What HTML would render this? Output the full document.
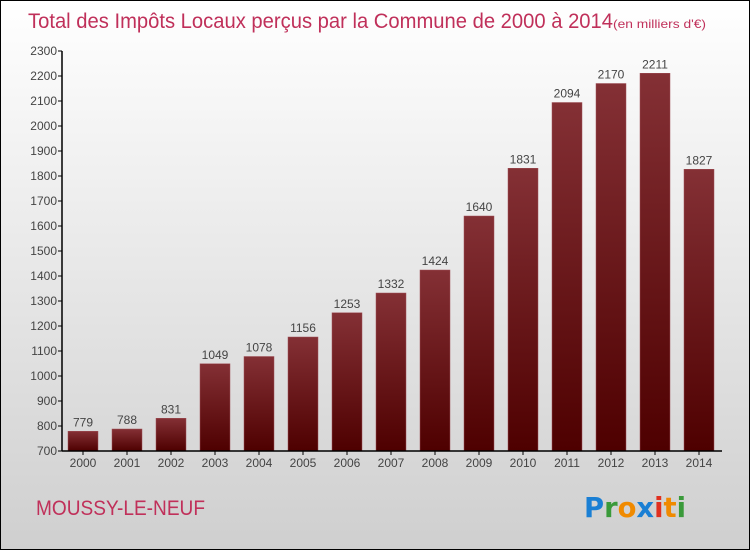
<!DOCTYPE html>
<html><head><meta charset="utf-8"><style>
body{margin:0;}
#wrap{position:relative;width:748px;height:548px;border:1px solid #000;background:linear-gradient(#fff,#cfcfcf);font-family:"Liberation Sans",sans-serif;overflow:hidden}
</style></head><body>
<div id="wrap">
<svg id="c" width="748" height="548" style="position:absolute;left:0;top:0">
<defs><linearGradient id="bg" x1="0" y1="0" x2="0" y2="1"><stop offset="0" stop-color="#843035"/><stop offset="1" stop-color="#4e0000"/></linearGradient></defs>
<text x="27" y="27" font-size="21" fill="#c0305a" textLength="585" lengthAdjust="spacingAndGlyphs">Total des Impôts Locaux perçus par la Commune de 2000 à 2014</text>
<text x="612" y="27" font-size="12" fill="#c0305a" textLength="93" lengthAdjust="spacingAndGlyphs">(en milliers d'€)</text>
<text x="35" y="514" font-size="21" fill="#c0305a" textLength="169" lengthAdjust="spacingAndGlyphs">MOUSSY-LE-NEUF</text>
<g font-size="28" font-weight="bold" font-family="'DejaVu Sans',sans-serif">
<text x="583" y="516" textLength="102" lengthAdjust="spacingAndGlyphs"><tspan fill="#1a7fd4">P</tspan><tspan fill="#3a9a3a">r</tspan><tspan fill="#f08a00">o</tspan><tspan fill="#1a7fd4">x</tspan><tspan fill="#e03020">i</tspan><tspan fill="#f08a00">t</tspan><tspan fill="#3a9a3a">i</tspan></text></g>
</svg>
</div>
<script>
const years=["2000","2001","2002","2003","2004","2005","2006","2007","2008","2009","2010","2011","2012","2013","2014"];
const values=[779,788,831,1049,1078,1156,1253,1332,1424,1640,1831,2094,2170,2211,1827];
const ticks=[700,800,900,1000,1100,1200,1300,1400,1500,1600,1700,1800,1900,2000,2100,2200,2300];
const svg=document.getElementById('c'),NS="http://www.w3.org/2000/svg";
const x0=60,band=44,bw=30;
const y=v=>450-(v-700)*0.25;
const xc=i=>x0+band*(i+0.5);
function mk(t,a){const e=document.createElementNS(NS,t);for(const k in a)e.setAttribute(k,a[k]);svg.appendChild(e);return e;}
values.forEach((v,i)=>{
 const r=mk('rect',{x:xc(i)-bw/2,y:y(v),width:bw,height:450-y(v),fill:'url(#bg)',stroke:'#a05058','stroke-width':0.5});
 
 
 const t=mk('text',{x:xc(i),y:y(v)-5,'text-anchor':'middle','font-size':12,fill:'#444'});t.textContent=v;
 
 
 const l=mk('text',{x:xc(i),y:466,'text-anchor':'middle','font-size':12,fill:'#444'});l.textContent=years[i];
 
 
 mk('line',{x1:xc(i),x2:xc(i),y1:450,y2:454,stroke:'#000'});
});
ticks.forEach(v=>{
 mk('line',{x1:57,x2:61,y1:y(v),y2:y(v),stroke:'#000'});
 const t=mk('text',{x:56,y:y(v)+4,'text-anchor':'end','font-size':12,fill:'#444'});t.textContent=v;
 
 
});
const ya=mk('line',{x1:61,x2:61,y1:50,y2:450,stroke:'#000','stroke-width':1.5});


const xa=mk('line',{x1:61,x2:721,y1:450,y2:450,stroke:'#000','stroke-width':1.5});


</script>
</body></html>
